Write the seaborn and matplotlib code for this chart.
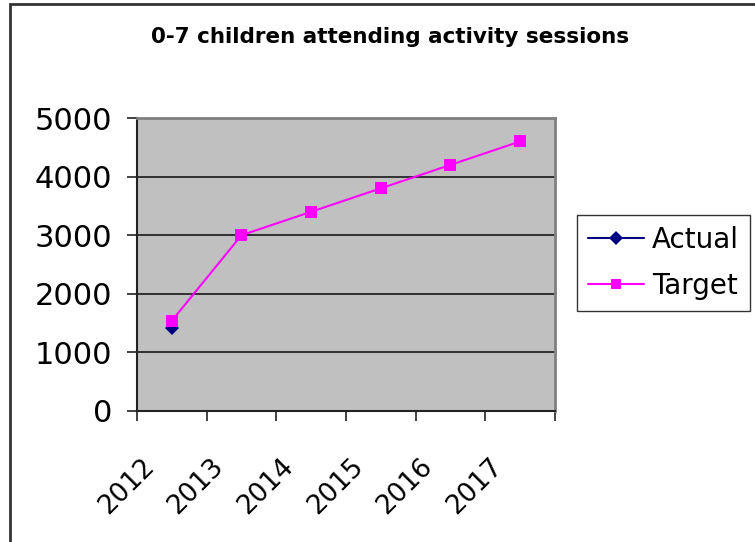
import numpy as np
import pandas as pd
import matplotlib
matplotlib.use("Agg")
import matplotlib.pyplot as plt
from matplotlib.patches import Rectangle
import seaborn as sns

years = ["2012", "2013", "2014", "2015", "2016", "2017"]
actual = [1410, np.nan, np.nan, np.nan, np.nan, np.nan]
target = [1540, 3000, 3400, 3800, 4200, 4600]
series_names = ["Actual", "Target"]
y_ticks = [0, 1000, 2000, 3000, 4000, 5000]

sns.set_theme(style="white")
plt.rcParams["font.family"] = ["DejaVu Sans"]
plt.rcParams["text.color"] = "black"
plt.rcParams["xtick.color"] = "black"
plt.rcParams["ytick.color"] = "black"

df = pd.DataFrame({
    "pos": list(range(len(years))) * 2,
    "value": actual + target,
    "series": [series_names[0]] * len(years) + [series_names[1]] * len(years),
})

W, H = 755, 542
fig = plt.figure(figsize=(W / 100, H / 100), dpi=100)
fig.patch.set_facecolor("white")

ax = fig.add_axes([137 / W, 1 - 411 / H, (555 - 137) / W, (411 - 118) / H])
ax.set_facecolor("#C0C0C0")

sns.lineplot(
    data=df, x="pos", y="value", hue="series", style="series",
    palette={"Actual": "#000080", "Target": "#FF00FF"},
    markers={"Actual": "D", "Target": "s"}, dashes=False,
    markersize=9, markeredgewidth=0, linewidth=1.5, ax=ax, legend=True,
)
for line in ax.lines:
    if line.get_marker() == "D":
        line.set_markersize(7)

ax.set_xlim(-0.5, len(years) - 0.5)
ax.set_ylim(0, 5000)
ax.set_yticks(y_ticks)
ax.set_yticklabels([str(v) for v in y_ticks], fontsize=22, color="black")
ax.set_xticks(np.arange(-0.5, len(years), 1.0))
ax.set_xticklabels([])
for i, yr in enumerate(years):
    ax.text(i - 0.31, -0.175, yr, transform=ax.get_xaxis_transform(),
            rotation=45, rotation_mode="anchor", ha="right", va="center",
            fontsize=19, color="black")
ax.set_xlabel("")
ax.set_ylabel("")

for v in y_ticks[1:]:
    ax.axhline(v, color="#1a1a1a", linewidth=1.2, zorder=1)

ax.tick_params(axis="both", which="both", direction="out", length=7,
               width=1.2, color="#222222", pad=11,
               bottom=True, left=True)
for side in ["top", "right"]:
    ax.spines[side].set_color("#808080")
    ax.spines[side].set_linewidth(2)
for side in ["left", "bottom"]:
    ax.spines[side].set_color("#222222")
    ax.spines[side].set_linewidth(1.5)

handles, labels = ax.get_legend_handles_labels()
ax.get_legend().remove()
for h in handles:
    h.set_markersize(7 if h.get_marker() == "D" else 7.5)
leg = fig.legend(handles, labels, loc="center left",
                 bbox_to_anchor=(577 / W, 1 - 263 / H), fontsize=20,
                 frameon=True, fancybox=False, edgecolor="black",
                 handlelength=2.0, borderpad=0.4, labelspacing=0.65,
                 handletextpad=0.3, borderaxespad=0, labelcolor="black")
leg.get_frame().set_linewidth(1.0)

fig.text(390 / W, 1 - 37 / H, "0-7 children attending activity sessions",
         ha="center", va="center", fontsize=15.5, fontweight="bold",
         color="black")

fig.patches.append(Rectangle((10 / W, -0.05), 1.2, 1.05 - 4 / H,
                             transform=fig.transFigure, fill=False,
                             edgecolor="#333333", linewidth=2))

fig.savefig("out.png", dpi=100)
